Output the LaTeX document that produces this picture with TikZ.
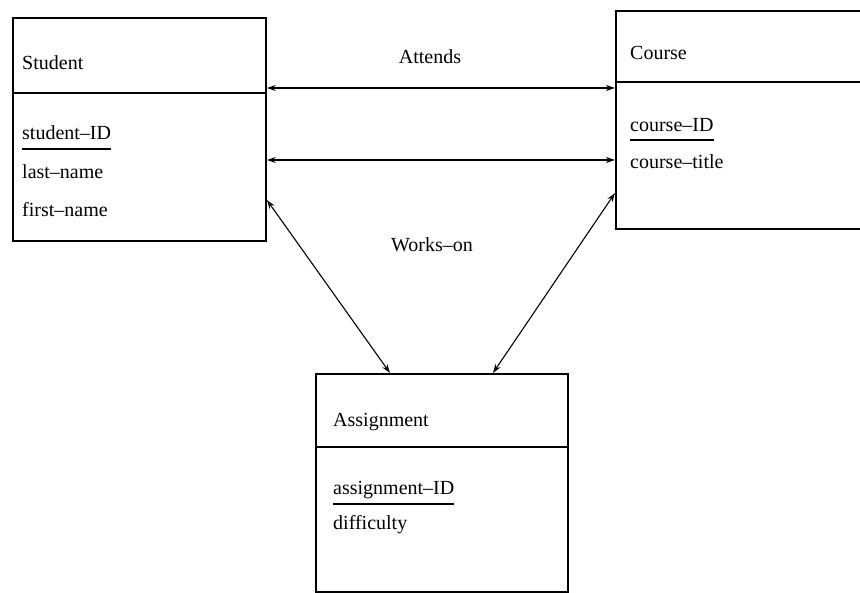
\documentclass[tikz,border=0pt]{standalone}
\usepackage{fontspec}
\setmainfont{Liberation Serif}
\usetikzlibrary{arrows.meta}
\begin{document}
\begin{tikzpicture}[x=1pt,y=-1pt,
  entity/.style={draw, line width=1.9pt, anchor=north west, inner sep=0pt},
  divider/.style={line width=1.9pt},
  lbl/.style={font=\fontsize{20}{23}\selectfont, inner sep=0pt},
  attr/.style={lbl, anchor=west},
  keyline/.style={line width=1.8pt},
  arr/.style={line width=1.6pt, {Stealth[length=9pt,width=6pt,open]}-{Stealth[length=9pt,width=6pt,open]}},
  darr/.style={line width=1.1pt, {Stealth[length=9pt,width=6pt,open]}-{Stealth[length=9pt,width=6pt,open]}}]
\useasboundingbox (0,0) rectangle (860,593);
\clip (0,0) rectangle (860,593);
\fill[white] (0,0) rectangle (860,593);
% entity boxes
\node[entity, minimum width=253pt, minimum height=223pt] (student) at (12,17) {};
\node[entity, minimum width=260pt, minimum height=218pt] (course) at (615,10) {};
\node[entity, minimum width=252pt, minimum height=218pt] (assign) at (315,373) {};
% dividers
\draw[divider] ([yshift=-76pt]student.north west) -- ([yshift=-76pt]student.north east);
\draw[divider] ([yshift=-72pt]course.north west) -- ([yshift=-72pt]course.north east);
\draw[divider] ([yshift=-74pt]assign.north west) -- ([yshift=-74pt]assign.north east);
% student texts
\node[attr] (sname) at (22,63) {Student};
\node[attr] (sid) at (22,133) {student--ID};
\node[attr] (slast) at (22,172) {last--name};
\node[attr] (sfirst) at (22,210) {first--name};
\draw[keyline] ([yshift=-9pt]sid.south west) -- ([yshift=-9pt]sid.south east);
% course texts
\node[attr] (cname) at (630,53) {Course};
\node[attr] (cid) at (630,125) {course--ID};
\node[attr] (ctitle) at (630,162) {course--title};
\draw[keyline] ([yshift=-8pt]cid.south west) -- ([yshift=-8pt]cid.south east);
% assignment texts
\node[attr] (aname) at (333,422) {Assignment};
\node[attr] (aid) at (333,490) {assignment--ID};
\node[attr] (adiff) at (333,525) {difficulty};
\draw[keyline] ([yshift=-5pt]aid.south west) -- ([yshift=-5pt]aid.south east);
% relationship labels
\node[lbl] (attends) at (430,57) {Attends};
\node[lbl] (workson) at (432,245) {Works--on};
% connectors
\draw[arr] ([yshift=-71pt]student.north east) -- ([yshift=-71pt]student.north east -| course.west);
\draw[arr] ([yshift=-143pt]student.north east) -- ([yshift=-143pt]student.north east -| course.west);
\draw[darr] ([yshift=-183pt]student.north east) -- ([xshift=75pt]assign.north west);
\draw[darr] ([yshift=-183pt]course.north west) -- ([xshift=178pt]assign.north west);
\end{tikzpicture}
\end{document}
